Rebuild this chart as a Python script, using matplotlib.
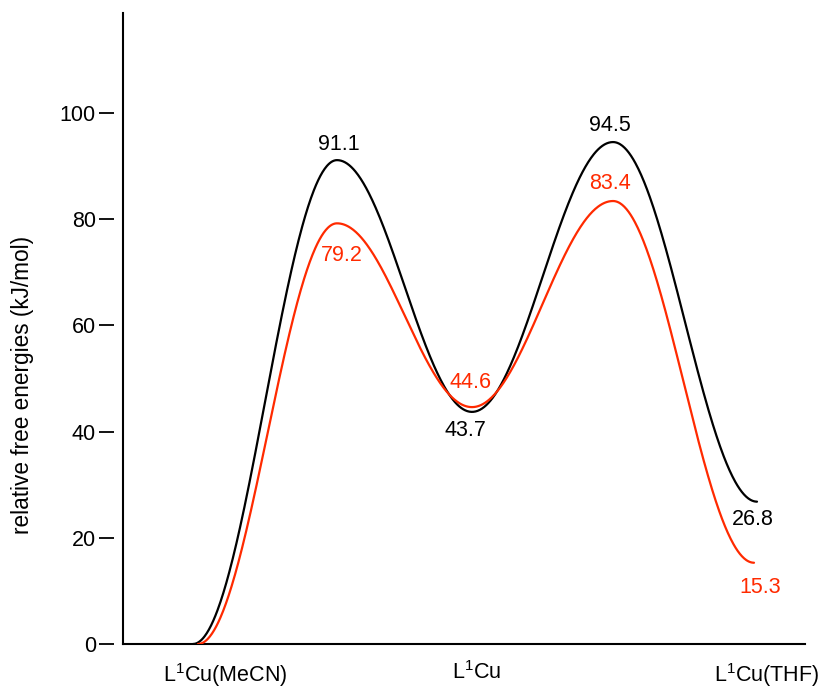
import numpy as np
import matplotlib
matplotlib.use('Agg')
import matplotlib.pyplot as plt

plt.rcParams['font.family'] = ['Liberation Sans', 'DejaVu Sans']
plt.rcParams['mathtext.fontset'] = 'custom'
plt.rcParams['mathtext.rm'] = 'Liberation Sans'
plt.rcParams['mathtext.it'] = 'Liberation Sans:italic'
plt.rcParams['mathtext.bf'] = 'Liberation Sans:bold'

# ---- data ----
categories = ['L$^1$Cu(MeCN)', 'L$^1$Cu', 'L$^1$Cu(THF)']
category_pos = [102, 354, 644]            # reaction-coordinate positions of the species
black_coord = [70, 214, 349, 490, 634]    # stationary points along the reaction coordinate
black_energy = [0.0, 91.1, 43.7, 94.5, 26.8]
black_labels = [None, '91.1', '43.7', '94.5', '26.8']
red_coord = [75, 214, 349, 490, 631]
red_energy = [0.0, 79.2, 44.6, 83.4, 15.3]
red_labels = [None, '79.2', '44.6', '83.4', '15.3']
yticks = [0, 20, 40, 60, 80, 100]

# label offsets (pixels) relative to stationary points
black_off = [None, (2, 15.5), (-7, -19), (-3, 16.5), (-4, -18)]
red_off = [None, (5, -32), (-2, 25), (-3, 18), (6, -25)]

BLACK = '#000000'
RED = '#ff2a00'
FS = 15.5


def smooth_profile(xs, ys, n=200):
    """Smooth energy profile with zero slope at every stationary point."""
    X, Y = [], []
    for i in range(len(xs) - 1):
        t = np.linspace(0, 1, n)
        w = (1 - np.cos(np.pi * t)) / 2
        X.append(xs[i] + (xs[i + 1] - xs[i]) * t)
        Y.append(ys[i] + (ys[i + 1] - ys[i]) * w)
    return np.concatenate(X), np.concatenate(Y)


fig = plt.figure(figsize=(8.3, 6.89), dpi=100)
ax = fig.add_axes([123 / 830, 45 / 689, 682 / 830, 631 / 689])
ax.set_xlim(0, 682)
ax.set_ylim(0, 118.8)

for xs, ys, col in [(black_coord, black_energy, BLACK), (red_coord, red_energy, RED)]:
    X, Y = smooth_profile(xs, ys)
    ax.plot(X, Y, color=col, lw=1.6, solid_capstyle='round', zorder=3)

for xs, ys, labs, offs, col in [(black_coord, black_energy, black_labels, black_off, BLACK),
                                 (red_coord, red_energy, red_labels, red_off, RED)]:
    for x, y, lab, off in zip(xs, ys, labs, offs):
        if lab is None:
            continue
        ax.annotate(lab, xy=(x, y), xytext=off, textcoords='offset pixels',
                    ha='center', va='center', color=col, fontsize=FS)

# spines
for s in ['top', 'right']:
    ax.spines[s].set_visible(False)
ax.spines['bottom'].set_linewidth(1.5)
ax.spines['left'].set_position(('outward', 6.5))
ax.spines['left'].set_visible(False)
ax.axvline(0, color='k', lw=1.5, clip_on=False, zorder=4)

ax.set_yticks(yticks)
ax.set_yticklabels([str(v) for v in yticks])
ax.tick_params(axis='y', direction='out', length=10.8, width=1.3, pad=2.2, labelsize=FS)

ax.set_xticks(category_pos)
ax.set_xticklabels(categories)
ax.tick_params(axis='x', length=0, pad=12, labelsize=FS)

ax.set_ylabel('relative free energies (kJ/mol)', fontsize=16.3)
ax.yaxis.set_label_coords(-0.130, 0.41)

fig.savefig('out.png', dpi=100)
